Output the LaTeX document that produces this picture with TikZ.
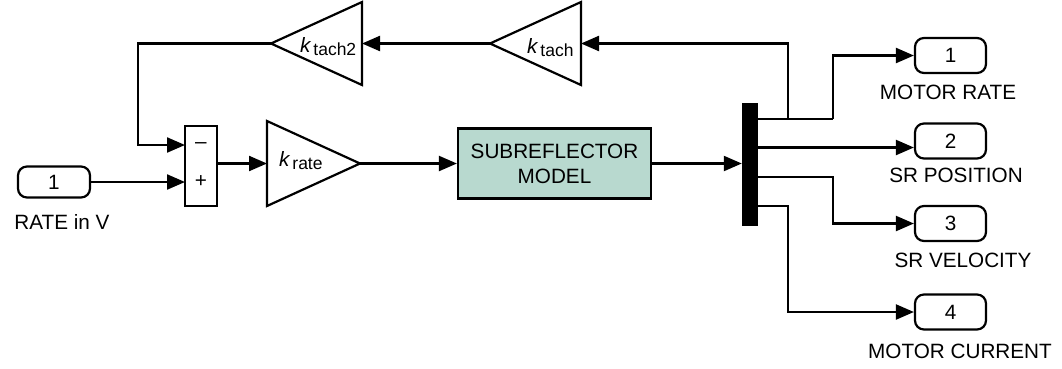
\documentclass[tikz,border=0pt]{standalone}
\usepackage{fontspec}
\setmainfont{Liberation Sans}
\usetikzlibrary{arrows.meta}
\definecolor{boxfill}{HTML}{B8D9CF}
\newcommand{\fs}{\fontsize{20.7}{25}\selectfont}
\newcommand{\ksub}[1]{\textit{k}\kern2pt{\fontsize{17.5}{20}\selectfont\raisebox{-3pt}{#1}}}
\tikzset{
  wire/.style={line width=2.2pt},
  arr/.style={wire,-{Triangle[length=18pt,width=15pt]}},
  port/.style={draw, line width=2.2pt, rounded corners=9pt, minimum width=71pt,
    minimum height=35pt, inner sep=0pt, font=\fs},
  lab/.style={font=\fs, inner sep=0pt},
  klab/.style={font=\fs, inner sep=0pt, anchor=base west},
  blk/.style={line width=2.2pt, line join=miter},
}
\begin{document}
\begin{tikzpicture}[x=1pt,y=-1pt]
\useasboundingbox (0,0) rectangle (1062,368);

% input port
\node[port, minimum width=72pt, minimum height=31pt] (in1) at (54,182) {1};
\node[lab] (inlab) at (62,222) {RATE in V};

% sum block
\node[draw, blk, minimum width=32pt, minimum height=80pt, inner sep=0pt] (sum) at (201,166) {};
\node[lab] (minus) at (201,146) {\textendash};
\node[lab] (plus) at (201,182) {+};
\coordinate (sm) at (185,145);
\coordinate (sp) at (185,182);
\coordinate (so) at (217,163.5);

% k_rate gain
\draw[blk] (267,121) -- (267,206) -- (360,163.5) -- cycle;
\coordinate (krin) at (267,163.5);
\coordinate (krout) at (360,163.5);
\node[klab] (krlab) at (279,166) {\ksub{rate}};

% subreflector model
\node[draw, blk, fill=boxfill, minimum width=193pt, minimum height=70pt,
  align=center, font=\fs, inner sep=0pt] (sub) at (554.5,163.5) {SUBREFLECTOR\\MODEL};

% mux
\node[fill=black, minimum width=16pt, minimum height=123pt, inner sep=0pt] (mux) at (750,164.5) {};
\coordinate (m1) at (758,119);
\coordinate (m2) at (758,147.5);
\coordinate (m3) at (758,177);
\coordinate (m4) at (758,206);
\coordinate (j1) at (833,119);
\coordinate (b1) at (788,119);
\coordinate (j3) at (833,177);
\coordinate (j4) at (788,206);

% feedback gains
\draw[blk] (581,2) -- (581,85) -- (490,43.5) -- cycle;
\coordinate (ktin) at (581,43.5);
\coordinate (ktout) at (490,43.5);
\node[klab] (ktlab) at (527,53) {\ksub{tach}};

\draw[blk] (362,2) -- (362,85) -- (271,43.5) -- cycle;
\coordinate (kt2in) at (362,43.5);
\coordinate (kt2out) at (271,43.5);
\node[klab] (kt2lab) at (300,52) {\ksub{tach2}};
\coordinate (fb) at (138,43.5);

% output ports
\node[port] (o1) at (950.5,55.5) {1};
\node[lab] (o1lab) at (948,92.5) {MOTOR RATE};
\node[port] (o2) at (950.5,141) {2};
\node[lab] (o2lab) at (956,175) {SR POSITION};
\node[port] (o3) at (950.5,223.5) {3};
\node[lab] (o3lab) at (963,260) {SR VELOCITY};
\node[port] (o4) at (950.5,312) {4};
\node[lab] (o4lab) at (960,351.5) {MOTOR CURRENT};

% wires
\draw[arr] (in1.east |- sp) -- (sp);
\draw[arr] (kt2out) -- (fb) -- (fb |- sm) -- (sm);
\draw[arr] (so) -- (krin);
\draw[arr] (krout) -- (sub.west |- krout);
\draw[arr] (sub.east) -- (mux.west |- sub.east);
\draw[wire] (m1) -- (j1);
\draw[arr] (j1) -- (j1 |- o1.west) -- (o1.west);
\draw[arr] (b1) -- (b1 |- ktin) -- (ktin);
\draw[arr] (ktout) -- (kt2in);
\draw[arr] (m2) -- (m2 -| o2.west);
\draw[arr] (m3) -- (j3) -- (j3 |- o3.west) -- (o3.west);
\draw[arr] (m4) -- (j4) -- (j4 |- o4.west) -- (o4.west);
\end{tikzpicture}
\end{document}
